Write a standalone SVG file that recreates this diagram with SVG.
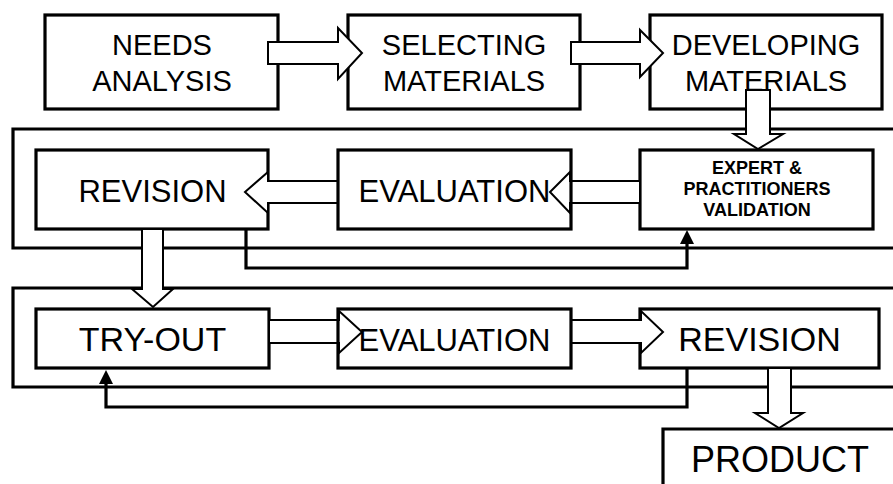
<svg xmlns="http://www.w3.org/2000/svg" width="893" height="484" viewBox="0 0 893 484">
<defs>
<style>
.box{fill:#fff;stroke:#000;stroke-width:3.2}
.boxo{fill:none;stroke:#000;stroke-width:3.2}
.cont{fill:none;stroke:#000;stroke-width:3.2}
.blk{fill:#fff;stroke:#000;stroke-width:2;stroke-linejoin:miter}
.fb{fill:none;stroke:#000;stroke-width:3.2}
.ah{fill:#000;stroke:none}
text{font-family:"Liberation Sans",Arial,sans-serif;fill:#000;text-anchor:middle}
.t29{font-size:29px}
.t31{font-size:31px}
.t34{font-size:34px}
.t36{font-size:36px}
.tb{font-size:18px;font-weight:bold}
</style>
</defs>
<rect width="893" height="484" fill="#fff"/>
<g id="containers">
<path class="cont" d="M900,129 H13 V248 H900"/>
<path class="cont" d="M900,288 H13 V387 H900"/>
</g>
<g id="needs-analysis">
<rect class="box" x="45" y="15" width="233" height="94"/>
<text class="t29" x="162" y="55">NEEDS</text>
<text class="t29" x="162" y="91">ANALYSIS</text>
</g>
<g id="selecting-materials">
<rect class="box" x="348" y="15" width="232" height="94"/>
<text class="t29" x="464" y="55">SELECTING</text>
<text class="t29" x="464" y="91">MATERIALS</text>
</g>
<g id="developing-materials">
<rect class="box" x="650" y="15" width="232" height="94"/>
<text class="t29" x="766" y="55">DEVELOPING</text>
<text class="t29" x="766" y="91">MATERIALS</text>
</g>
<g id="revision-1">
<rect class="box" x="36" y="150" width="232" height="79"/>
<text class="t31" x="152.5" y="202">REVISION</text>
</g>
<g id="expert-validation">
<rect class="box" x="640" y="150" width="233" height="79"/>
<text class="tb" x="757" y="174">EXPERT &amp;</text>
<text class="tb" x="757" y="195">PRACTITIONERS</text>
<text class="tb" x="757" y="216">VALIDATION</text>
</g>
<g id="try-out">
<rect class="box" x="36" y="309" width="233" height="59"/>
<text class="t34" x="152.5" y="351">TRY-OUT</text>
</g>
<g id="revision-2">
<rect class="box" x="640" y="309" width="239" height="59"/>
<text class="t34" x="759.5" y="351">REVISION</text>
</g>
<g id="product">
<path class="box" d="M900,429 H663 V490"/>
<text class="t36" x="780" y="472">PRODUCT</text>
</g>
<g id="connectors">
<path class="blk" d="M268,42 H338 V28 L362,53 L338,79 V64 H268 Z"/>
<path class="blk" d="M571,42 H640 V30 L663,53 L640,77 V64 H571 Z"/>
<path class="blk" d="M746,90 V134 H734 L758,149 L783,134 H770 V90 Z"/>
<path class="blk" d="M338,181 H268 V172 L245,192 L268,213 V203 H338 Z"/>
<path class="blk" d="M640,181 H570 V172 L550,192 L570,213 V203 H640 Z"/>
<path class="blk" d="M142,229 V289 H132 L153,307 L173,289 H163 V229 Z"/>
<path class="blk" d="M269,320 H339 V311 L362,332 L339,353 V343 H269 Z"/>
<path class="blk" d="M571,320 H641 V311 L663,332 L641,353 V343 H571 Z"/>
<path class="blk" d="M768,368 V413 H755 L779,428 L803,413 H791 V368 Z"/>
<path class="fb" d="M246,229 V268 H687 V243"/>
<polygon class="ah" points="680,244 694,244 687,230"/>
<path class="fb" d="M687,368 V407 H106 V383"/>
<polygon class="ah" points="99,384 113,384 106,370"/>
</g>
<g id="evaluation-1">
<rect class="boxo" x="338" y="150" width="233" height="79"/>
<text class="t31" x="454.5" y="202">EVALUATION</text>
</g>
<g id="evaluation-2">
<rect class="boxo" x="338" y="309" width="233" height="59"/>
<text class="t31" x="454.5" y="351">EVALUATION</text>
</g>
</svg>
